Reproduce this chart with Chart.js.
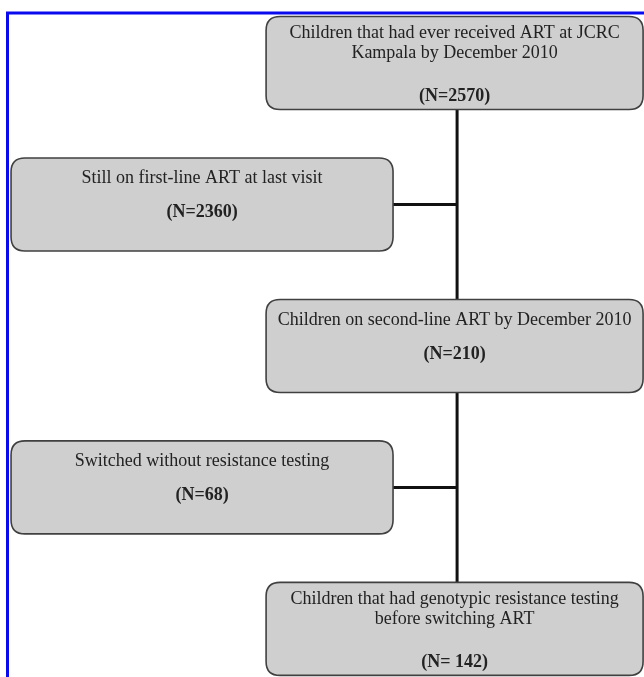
<!DOCTYPE html>
<html>
<head>
<meta charset="utf-8">
<title>Flow of children on ART</title>
<script src="https://cdn.jsdelivr.net/npm/chart.js@4.4.1/dist/chart.umd.min.js"></script>
<style>
    html, body { margin: 0; padding: 0; background: #ffffff; }
    #wrap { position: relative; width: 644px; height: 677px; }
</style>
</head>
<body>
<div id="wrap"><canvas id="flowChart"></canvas></div>
<script>
// Stages of the flow diagram, top to bottom
const stageText = [
    ['Children that had ever received ART at JCRC', 'Kampala by December 2010'],
    ['Still on first-line ART at last visit'],
    ['Children on second-line ART by December 2010'],
    ['Switched without resistance testing'],
    ['Children that had genotypic resistance testing', 'before switching ART']
];
const stageCounts = [2570, 2360, 210, 68, 142];
const stageCountLabels = ['(N=2570)', '(N=2360)', '(N=210)', '(N=68)', '(N= 142)'];
const stageOrder = [0, 1, 2, 3, 4];
// 1 = main column, 0 = side column (children leaving the main path)
const stageColumn = [1, 0, 1, 0, 1];

let flowChart;

// box styles
const boxStyle = {
    mainWidth: 377,
    sideWidth: 382,
    height: 93,
    radius: 14,
    fill: '#cfcfcf',
    stroke: '#404040',
    font: '18px "Liberation Serif", "DejaVu Serif", serif',
    boldFont: 'bold 18px "Liberation Serif", "DejaVu Serif", serif',
    color: '#222222'
};

function roundRect(ctx, x, y, w, h, r) {
    ctx.beginPath();
    ctx.moveTo(x + r, y);
    ctx.lineTo(x + w - r, y);
    ctx.quadraticCurveTo(x + w, y, x + w, y + r);
    ctx.lineTo(x + w, y + h - r);
    ctx.quadraticCurveTo(x + w, y + h, x + w - r, y + h);
    ctx.lineTo(x + r, y + h);
    ctx.quadraticCurveTo(x, y + h, x, y + h - r);
    ctx.lineTo(x, y + r);
    ctx.quadraticCurveTo(x, y, x + r, y);
    ctx.closePath();
}

function boxRect(pt, i) {
    const w = stageColumn[i] === 1 ? boxStyle.mainWidth : boxStyle.sideWidth;
    return { x: pt.x - w / 2, y: pt.y - boxStyle.height / 2, w: w, h: boxStyle.height };
}

const flowPlugin = {
    id: 'flowBoxes',
    afterDatasetsDraw(chart) {
        const ctx = chart.ctx;
        const pts = chart.getDatasetMeta(0).data;
        const area = chart.chartArea;
        ctx.save();

        // blue frame round the figure
        ctx.strokeStyle = '#0a0aee';
        ctx.lineWidth = 3;
        ctx.beginPath();
        ctx.moveTo(area.left + 7.5, area.bottom);
        ctx.lineTo(area.left + 7.5, area.top + 13);
        ctx.lineTo(area.right, area.top + 13);
        ctx.stroke();

        // connectors
        const mainIdx = stageOrder.filter(i => stageColumn[i] === 1);
        const first = boxRect(pts[mainIdx[0]], mainIdx[0]);
        const last = boxRect(pts[mainIdx[mainIdx.length - 1]], mainIdx[mainIdx.length - 1]);
        const spineX = pts[mainIdx[0]].x + 2.5;
        ctx.strokeStyle = '#111111';
        ctx.lineWidth = 3;
        ctx.beginPath();
        ctx.moveTo(spineX, first.y + first.h);
        ctx.lineTo(spineX, last.y);
        stageOrder.forEach(i => {
            if (stageColumn[i] === 0) {
                const b = boxRect(pts[i], i);
                ctx.moveTo(b.x + b.w, pts[i].y);
                ctx.lineTo(spineX, pts[i].y);
            }
        });
        ctx.stroke();

        // boxes and text
        stageOrder.forEach(i => {
            const b = boxRect(pts[i], i);
            roundRect(ctx, b.x, b.y, b.w, b.h, boxStyle.radius);
            ctx.fillStyle = boxStyle.fill;
            ctx.fill();
            ctx.strokeStyle = boxStyle.stroke;
            ctx.lineWidth = 1.6;
            ctx.stroke();

            ctx.fillStyle = boxStyle.color;
            ctx.textAlign = 'center';
            ctx.textBaseline = 'middle';
            const cx = pts[i].x;
            const lines = stageText[i];
            if (lines.length > 1) {
                ctx.font = boxStyle.font;
                ctx.fillText(lines[0], cx, b.y + 17);
                ctx.fillText(lines[1], cx, b.y + 37);
                ctx.font = boxStyle.boldFont;
                ctx.fillText(stageCountLabels[i], cx, b.y + b.h - 13);
            } else {
                ctx.font = boxStyle.font;
                ctx.fillText(lines[0], cx, pts[i].y - 26);
                ctx.font = boxStyle.boldFont;
                ctx.fillText(stageCountLabels[i], cx, pts[i].y + 8);
            }
        });
        ctx.restore();
    }
};

function drawFlow() {
    const ctx = document.getElementById('flowChart').getContext('2d');

    if (flowChart) {
        flowChart.destroy();
    }

    flowChart = new Chart(ctx, {
        type: 'scatter',
        data: {
            datasets: [{
                label: 'Children',
                data: stageOrder.map(i => ({ x: stageColumn[i], y: stageOrder[i], n: stageCounts[i] })),
                pointRadius: 0,
                pointHoverRadius: 0
            }]
        },
        options: {
            responsive: true,
            maintainAspectRatio: false,
            animation: false,
            layout: { padding: 0 },
            scales: {
                x: { type: 'linear', min: -0.8, max: 1.75, display: false },
                y: { type: 'linear', min: -0.445, max: 4.34, reverse: true, display: false }
            },
            plugins: {
                legend: { display: false },
                tooltip: { enabled: false }
            }
        },
        plugins: [flowPlugin]
    });
}

drawFlow();
</script>
</body>
</html>
